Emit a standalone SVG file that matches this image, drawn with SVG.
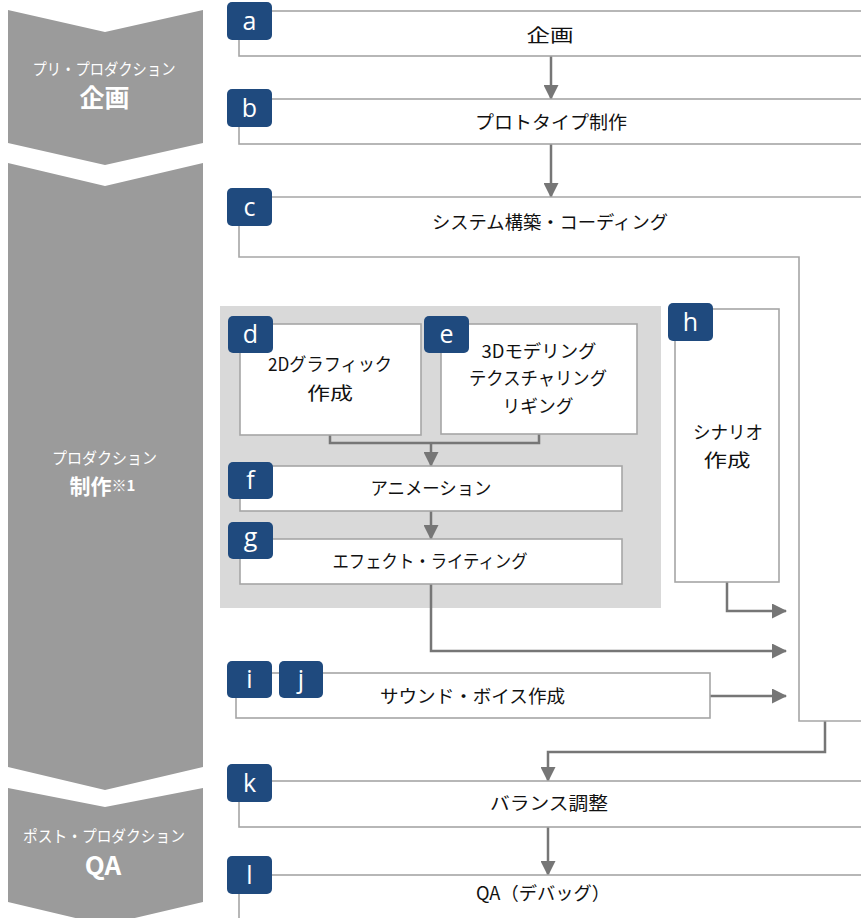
<svg xmlns="http://www.w3.org/2000/svg" width="861" height="918" viewBox="0 0 861 918">
<style>
.chev{fill:#9b9b9b}
.ct{fill:#ffffff;font-family:"Noto Sans CJK JP","Noto Sans",sans-serif;font-size:16px;text-anchor:middle}
.cb{fill:#ffffff;font-family:"Noto Sans CJK JP","Noto Sans",sans-serif;font-weight:bold;text-anchor:middle}
.box{fill:#ffffff;stroke:#a6a6a6;stroke-width:1.6}
.badge{fill:#1f4a7e}
.bl{fill:#ffffff;font-family:"Open Sans","Noto Sans",sans-serif;font-size:25px;text-anchor:middle}
.t{fill:#111111;font-family:"Noto Sans CJK JP",sans-serif;font-size:18px;text-anchor:middle}
.con{fill:none;stroke:#767676;stroke-width:2.5}
</style>
<defs>
<marker id="ah" markerWidth="15" markerHeight="15" refX="14" refY="7.5" orient="auto" markerUnits="userSpaceOnUse">
<path d="M0,0 L15,7.5 L0,15 Z" fill="#767676"/>
</marker>
</defs>
<rect width="861" height="918" fill="#ffffff"/>

<g id="phases">
<g id="phase-pre">
<polygon class="chev" points="8,10 105,32 203,10 203,143 105,165 8,143"/>
<text class="ct" x="104" y="74.5" textLength="143" lengthAdjust="spacingAndGlyphs">プリ・プロダクション</text>
<text class="cb" x="104.5" y="107" font-size="25">企画</text>
</g>
<g id="phase-prod">
<polygon class="chev" points="8,163 105,186 203,163 203,767 105,790 8,767"/>
<text class="ct" x="104.5" y="464" textLength="105" lengthAdjust="spacingAndGlyphs">プロダクション</text>
<text class="cb" x="102.5" y="494" font-size="21">制作<tspan font-size="15" dy="-3">※1</tspan></text>
</g>
<g id="phase-post">
<polygon class="chev" points="8,788 105,807 203,788 203,902 105,925 8,902"/>
<text class="ct" x="104" y="842" textLength="162" lengthAdjust="spacingAndGlyphs">ポスト・プロダクション</text>
<text class="cb" x="103" y="875" font-size="26" font-family="'Noto Sans',sans-serif">QA</text>
</g>
</g>

<rect id="production-area" x="220" y="306" width="441" height="302" fill="#d9d9d9"/>

<g id="connectors">
<path class="con" d="M551,56 V99" marker-end="url(#ah)"/>
<path class="con" d="M551,144 V197" marker-end="url(#ah)"/>
<path class="con" d="M330,435 V443 H539 V434"/>
<path class="con" d="M431,443 V466" marker-end="url(#ah)"/>
<path class="con" d="M431,511 V539" marker-end="url(#ah)"/>
<path class="con" d="M431,584 V651 H786" marker-end="url(#ah)"/>
<path class="con" d="M727,582 V611 H786" marker-end="url(#ah)"/>
<path class="con" d="M710,696 H786" marker-end="url(#ah)"/>
<path class="con" d="M825,721 V752 H548 V781" marker-end="url(#ah)"/>
<path class="con" d="M548,827 V875" marker-end="url(#ah)"/>
</g>

<g id="node-a">
<rect class="box" x="239" y="11" width="640" height="45"/>
<rect class="badge" x="227" y="2" width="45" height="38" rx="5"/>
<text class="bl" x="249.5" y="30">a</text>
<text class="t" x="550" y="41.5" textLength="47" lengthAdjust="spacingAndGlyphs">企画</text>
</g>
<g id="node-b">
<rect class="box" x="239" y="99" width="640" height="45"/>
<rect class="badge" x="227" y="89" width="45" height="38" rx="5"/>
<text class="bl" x="249.5" y="117">b</text>
<text class="t" x="551" y="128.5" textLength="152" lengthAdjust="spacingAndGlyphs">プロトタイプ制作</text>
</g>
<g id="node-c">
<path class="box" d="M239,197 H880 V721 H799 V257 H239 Z"/>
<rect class="badge" x="227" y="188" width="45" height="38" rx="5"/>
<text class="bl" x="249.5" y="216">c</text>
<text class="t" x="550" y="228.5" textLength="236" lengthAdjust="spacingAndGlyphs">システム構築・コーディング</text>
</g>
<g id="node-d">
<rect class="box" x="240" y="324" width="181" height="111"/>
<rect class="badge" x="228" y="316" width="45" height="37" rx="5"/>
<text class="bl" x="250.5" y="343">d</text>
<text class="t" x="330" y="371" textLength="124" lengthAdjust="spacingAndGlyphs">2Dグラフィック</text>
<text class="t" x="330" y="400" textLength="46" lengthAdjust="spacingAndGlyphs">作成</text>
</g>
<g id="node-e">
<rect class="box" x="441" y="324" width="196" height="110"/>
<rect class="badge" x="424" y="316" width="45" height="37" rx="5"/>
<text class="bl" x="446.5" y="343">e</text>
<text class="t" x="539" y="358" textLength="115" lengthAdjust="spacingAndGlyphs">3Dモデリング</text>
<text class="t" x="538" y="385" textLength="138" lengthAdjust="spacingAndGlyphs">テクスチャリング</text>
<text class="t" x="538" y="413" textLength="71" lengthAdjust="spacingAndGlyphs">リギング</text>
</g>
<g id="node-f">
<rect class="box" x="240" y="466" width="382" height="45"/>
<rect class="badge" x="228" y="462" width="45" height="37" rx="5"/>
<text class="bl" x="250.5" y="489">f</text>
<text class="t" x="431" y="495" textLength="121" lengthAdjust="spacingAndGlyphs">アニメーション</text>
</g>
<g id="node-g">
<rect class="box" x="240" y="539" width="382" height="45"/>
<rect class="badge" x="228" y="522" width="45" height="37" rx="5"/>
<text class="bl" x="250.5" y="546">g</text>
<text class="t" x="430" y="568" textLength="195" lengthAdjust="spacingAndGlyphs">エフェクト・ライティング</text>
</g>
<g id="node-h">
<rect class="box" x="675" y="309" width="104" height="273"/>
<rect class="badge" x="668" y="303" width="45" height="38" rx="5"/>
<text class="bl" x="690.5" y="331">h</text>
<text class="t" x="728" y="439" textLength="70" lengthAdjust="spacingAndGlyphs">シナリオ</text>
<text class="t" x="727" y="467" textLength="47" lengthAdjust="spacingAndGlyphs">作成</text>
</g>
<g id="node-ij">
<rect class="box" x="236" y="673" width="474" height="45"/>
<rect class="badge" x="227" y="661" width="45" height="37" rx="5"/>
<text class="bl" x="249.5" y="688">i</text>
<rect class="badge" x="279" y="661" width="44" height="37" rx="5"/>
<text class="bl" x="301" y="688">j</text>
<text class="t" x="472.5" y="703" textLength="185" lengthAdjust="spacingAndGlyphs">サウンド・ボイス作成</text>
</g>
<g id="node-k">
<rect class="box" x="239" y="781" width="640" height="46"/>
<rect class="badge" x="227" y="764" width="45" height="38" rx="5"/>
<text class="bl" x="249.5" y="792">k</text>
<text class="t" x="549" y="809.5" textLength="118" lengthAdjust="spacingAndGlyphs">バランス調整</text>
</g>
<g id="node-l">
<rect class="box" x="239" y="875" width="640" height="60"/>
<rect class="badge" x="227" y="856" width="45" height="38" rx="5"/>
<text class="bl" x="249.5" y="884">l</text>
<text class="t" x="543" y="899.5" textLength="134" lengthAdjust="spacingAndGlyphs">QA（デバッグ）</text>
</g>
</svg>
